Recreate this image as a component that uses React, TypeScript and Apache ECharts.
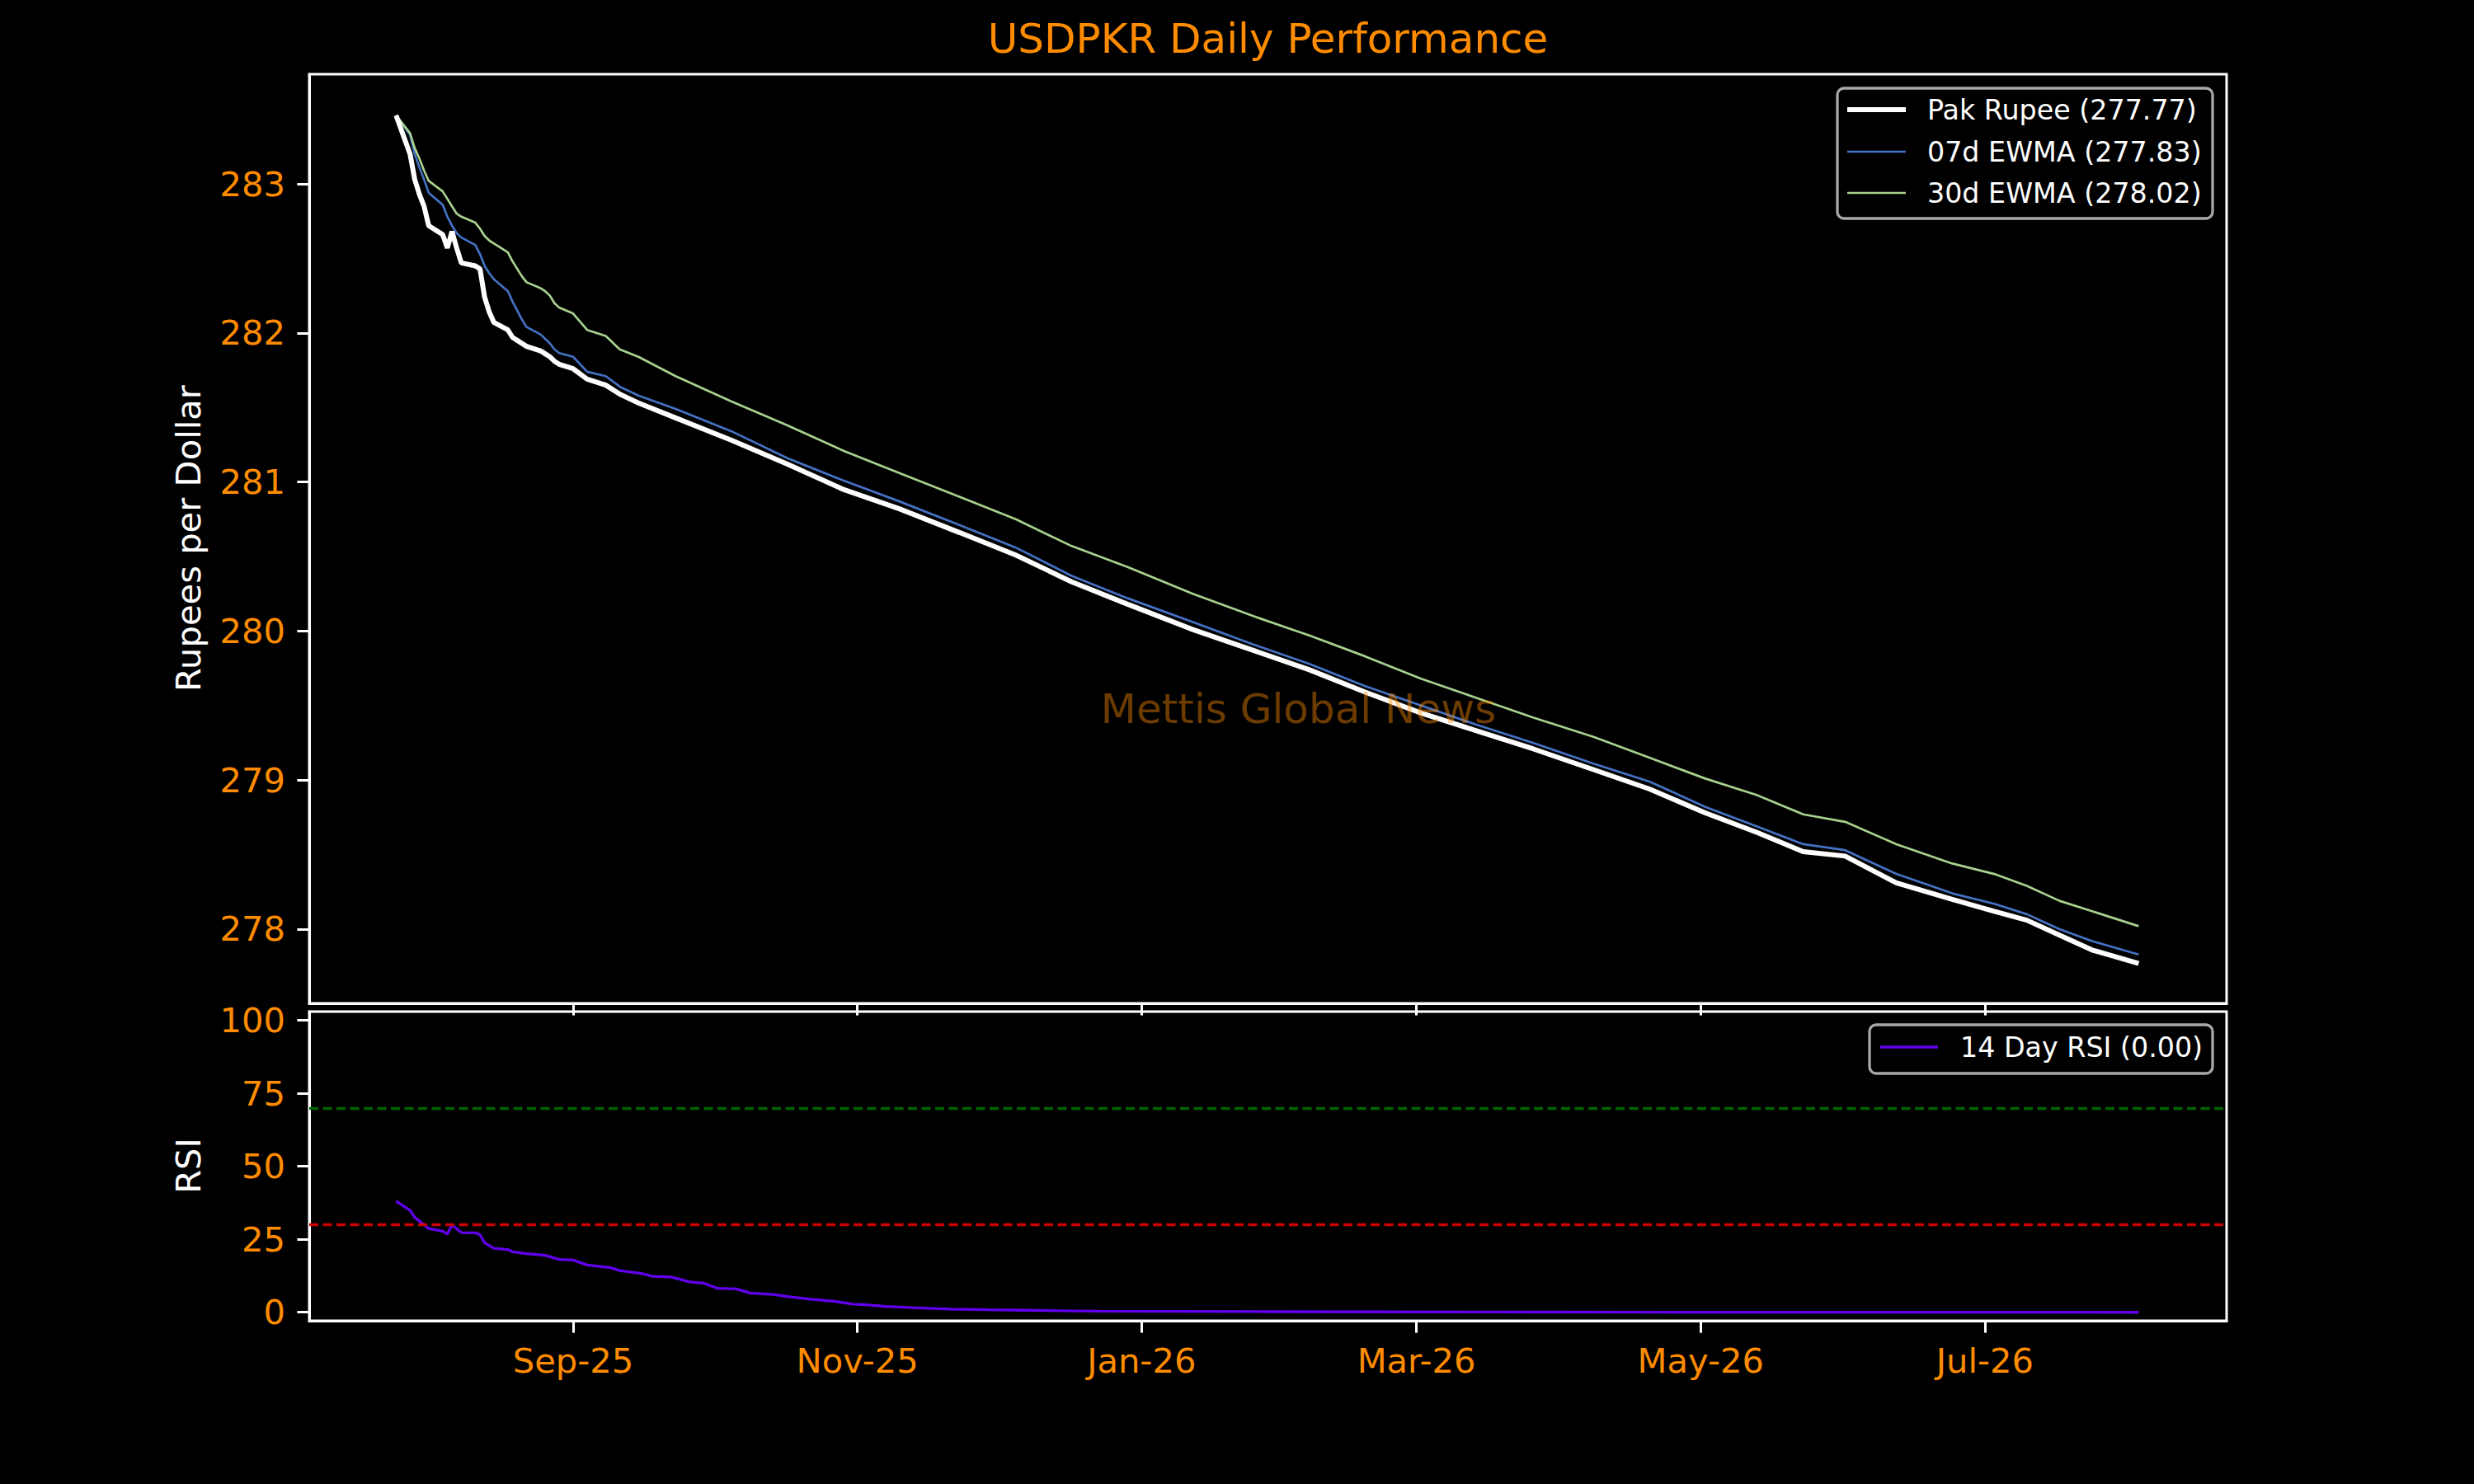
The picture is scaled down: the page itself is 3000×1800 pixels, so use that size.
import { useEffect, useRef } from 'react';
import * as echarts from 'echarts';

// daily closes sampled from the chart (Rupees per Dollar)
const dates = [
  '2025-07-25', '2025-07-28', '2025-07-29', '2025-07-30', '2025-07-31', '2025-08-01',
  '2025-08-04', '2025-08-05', '2025-08-06', '2025-08-07', '2025-08-08', '2025-08-11',
  '2025-08-12', '2025-08-13', '2025-08-14', '2025-08-15', '2025-08-18', '2025-08-19',
  '2025-08-20', '2025-08-21', '2025-08-22', '2025-08-25', '2025-08-26', '2025-08-27',
  '2025-08-28', '2025-08-29', '2025-09-01', '2025-09-04', '2025-09-08', '2025-09-11',
  '2025-09-15', '2025-09-23', '2025-10-05', '2025-10-17', '2025-10-29', '2025-11-10',
  '2025-11-23', '2025-12-05', '2025-12-17', '2025-12-29', '2026-01-12', '2026-01-25',
  '2026-02-06', '2026-02-18', '2026-03-02', '2026-03-14', '2026-03-26', '2026-04-08',
  '2026-04-20', '2026-05-02', '2026-05-13', '2026-05-23', '2026-06-01', '2026-06-12',
  '2026-06-24', '2026-07-03', '2026-07-10', '2026-07-17', '2026-07-24', '2026-08-03',
];
const pkr = [
  283.46, 283.20, 283.03, 282.93, 282.85, 282.72,
  282.66, 282.57, 282.68, 282.57, 282.47, 282.45,
  282.43, 282.24, 282.14, 282.07, 282.02, 281.97,
  281.95, 281.93, 281.91, 281.88, 281.86, 281.84,
  281.81, 281.79, 281.76, 281.69, 281.65, 281.59,
  281.53, 281.43, 281.28, 281.12, 280.95, 280.82,
  280.66, 280.51, 280.33, 280.18, 280.01, 279.87,
  279.74, 279.59, 279.45, 279.33, 279.21, 279.07,
  278.94, 278.78, 278.65, 278.52, 278.49, 278.31,
  278.20, 278.12, 278.06, 277.96, 277.86, 277.77,
];
const ewma07 = [
  283.46, 283.33, 283.20, 283.11, 283.03, 282.94,
  282.86, 282.78, 282.72, 282.67, 282.64, 282.59,
  282.53, 282.45, 282.40, 282.36, 282.28, 282.21,
  282.15, 282.09, 282.04, 281.99, 281.96, 281.93,
  281.89, 281.865, 281.84, 281.74, 281.71, 281.64,
  281.58, 281.49, 281.34, 281.16, 281.01, 280.87,
  280.71, 280.56, 280.37, 280.22, 280.06, 279.91,
  279.78, 279.63, 279.50, 279.37, 279.25, 279.11,
  278.99, 278.82, 278.69, 278.57, 278.53, 278.37,
  278.24, 278.17, 278.10, 278.00, 277.92, 277.83,
];
const ewma30 = [
  283.46, 283.34, 283.24, 283.17, 283.09, 283.02,
  282.95, 282.90, 282.85, 282.80, 282.78, 282.74,
  282.70, 282.65, 282.62, 282.60, 282.54, 282.48,
  282.43, 282.38, 282.34, 282.30, 282.28, 282.25,
  282.20, 282.17, 282.13, 282.02, 281.98, 281.89,
  281.84, 281.71, 281.54, 281.38, 281.21, 281.06,
  280.90, 280.75, 280.57, 280.43, 280.25, 280.10,
  279.97, 279.83, 279.68, 279.55, 279.42, 279.29,
  279.15, 279.01, 278.90, 278.77, 278.72, 278.57,
  278.44, 278.37, 278.29, 278.19, 278.12, 278.02,
];

const rsiDates = [
  '2025-07-25', '2025-07-28', '2025-07-29', '2025-08-01', '2025-08-04', '2025-08-05',
  '2025-08-06', '2025-08-08', '2025-08-11', '2025-08-12', '2025-08-13', '2025-08-15',
  '2025-08-18', '2025-08-19', '2025-08-22', '2025-08-26', '2025-08-29', '2025-09-01',
  '2025-09-04', '2025-09-09', '2025-09-11', '2025-09-16', '2025-09-18', '2025-09-22',
  '2025-09-26', '2025-09-29', '2025-10-02', '2025-10-06', '2025-10-09', '2025-10-14',
  '2025-10-17', '2025-10-22', '2025-10-27', '2025-10-31', '2025-11-03', '2025-11-07',
  '2025-11-13', '2025-11-21', '2025-11-29', '2025-12-07', '2025-12-15', '2025-12-23',
  '2026-01-08', '2026-01-29', '2026-03-15', '2026-05-01', '2026-08-03',
];
const rsi = [
  38.1, 34.9, 32.5, 28.7, 27.8, 26.8,
  29.9, 27.3, 27.2, 26.6, 23.8, 21.9,
  21.5, 20.7, 20.1, 19.5, 18.1, 17.9,
  16.2, 15.3, 14.3, 13.2, 12.3, 12.1,
  10.4, 10.0, 8.2, 8.0, 6.6, 6.1,
  5.4, 4.5, 3.8, 2.8, 2.6, 2.0,
  1.6, 1.1, 0.85, 0.7, 0.5, 0.4,
  0.3, 0.2, 0.1, 0.05, 0.0,
];
const rsiLevels = [70, 30];

const tickDates = ['2025-09-01', '2025-11-01', '2026-01-01', '2026-03-01', '2026-05-01', '2026-07-01'];
const tickLabels = ['Sep-25', 'Nov-25', 'Jan-26', 'Mar-26', 'May-26', 'Jul-26'];
const priceTicks = [278, 279, 280, 281, 282, 283];
const rsiTicks = [0, 25, 50, 75, 100];

const ORANGE = '#ff8c00';
const FONT = 'DejaVu Sans';

// dates -> ms timestamps (UTC) so the x axis can be a plain value axis
function toTime(s: string) {
  const [d, t] = s.split(' ');
  const [y, m, day] = d.split('-').map(Number);
  const [hh, mm] = (t || '00:00').split(':').map(Number);
  return Date.UTC(y, m - 1, day, hh, mm);
}

export default function App() {
  const ref = useRef<HTMLDivElement>(null);

  useEffect(() => {
    if (!ref.current) return;
    document.body.style.margin = '0';
    document.body.style.background = '#000';
    const chart = echarts.init(ref.current, undefined, { renderer: 'svg' });

    const tickTimes = tickDates.map(toTime);
    const xMin = toTime('2025-07-06 08:40');
    const xMax = toTime('2026-08-21 21:00');

    const xBase = {
      type: 'value' as const,
      min: xMin,
      max: xMax,
      splitLine: { show: false },
      axisLine: { onZero: false, lineStyle: { color: '#fff', width: 3 } },
      axisTick: { customValues: tickTimes, length: 14.6, lineStyle: { color: '#fff', width: 3 } },
    };
    const yBase = {
      type: 'value' as const,
      splitLine: { show: false },
      axisLine: { show: true, lineStyle: { color: '#fff', width: 3 } },
      axisLabel: { color: ORANGE, fontSize: 41.67, fontFamily: FONT, margin: 29 },
    };

    const legendText = (x: number, y: number, text: string) => ({
      type: 'text', x, y, z: 102,
      style: { text, fill: '#fff', font: `33.3px "${FONT}"`, verticalAlign: 'middle' },
    });
    const legendLine = (y: number, color: string, width: number, x1 = 2240, x2 = 2311) => ({
      type: 'line', z: 102,
      shape: { x1, y1: y, x2, y2: y },
      style: { stroke: color, lineWidth: width },
    });

    chart.setOption({
      animation: false,
      backgroundColor: '#000',
      grid: [
        { left: 375, top: 90, width: 2325, height: 1127, show: true, borderColor: '#fff', borderWidth: 3, backgroundColor: '#000' },
        { left: 375, top: 1227, width: 2325, height: 375, show: true, borderColor: '#fff', borderWidth: 3, backgroundColor: '#000' },
      ],
      xAxis: [
        { ...xBase, gridIndex: 0, axisLabel: { show: false } },
        {
          ...xBase,
          gridIndex: 1,
          axisLabel: {
            customValues: tickTimes,
            color: ORANGE, fontSize: 41.67, fontFamily: FONT, margin: 27,
            formatter: (v: number) => {
              const i = tickTimes.indexOf(v);
              return i >= 0 ? tickLabels[i] : '';
            },
          },
        },
      ],
      yAxis: [
        {
          ...yBase, gridIndex: 0, min: 277.502, max: 283.736,
          axisTick: { customValues: priceTicks, length: 14.6, lineStyle: { color: '#fff', width: 3 } },
          axisLabel: { ...yBase.axisLabel, customValues: priceTicks },
        },
        {
          ...yBase, gridIndex: 1, min: -2.9, max: 103.0,
          axisTick: { customValues: rsiTicks, length: 14.6, lineStyle: { color: '#fff', width: 3 } },
          axisLabel: { ...yBase.axisLabel, customValues: rsiTicks },
        },
      ],
      series: [
        {
          name: '07d EWMA', type: 'line', xAxisIndex: 0, yAxisIndex: 0, symbol: 'none',
          data: dates.map((d, i) => [toTime(d), ewma07[i]]),
          lineStyle: { color: '#4472c4', width: 2.7 }, z: 3,
        },
        {
          name: '30d EWMA', type: 'line', xAxisIndex: 0, yAxisIndex: 0, symbol: 'none',
          data: dates.map((d, i) => [toTime(d), ewma30[i]]),
          lineStyle: { color: '#a9d18e', width: 2.7 }, z: 3,
        },
        {
          name: 'Pak Rupee', type: 'line', xAxisIndex: 0, yAxisIndex: 0, symbol: 'none',
          data: dates.map((d, i) => [toTime(d), pkr[i]]),
          lineStyle: { color: '#fff', width: 6 }, z: 4,
        },
        {
          name: '14 Day RSI', type: 'line', xAxisIndex: 1, yAxisIndex: 1, symbol: 'none',
          data: rsiDates.map((d, i) => [toTime(d), rsi[i]]),
          lineStyle: { color: '#6200ee', width: 3.3 }, z: 4,
          markLine: {
            silent: true, symbol: 'none', label: { show: false },
            data: rsiLevels.map((v, i) => ({
              yAxis: v,
              lineStyle: { color: i === 0 ? '#006400' : '#cc0000', width: 3.3, type: [11, 5.5] },
            })),
          },
        },
      ],
      graphic: [
        {
          type: 'text', x: 1537.5, y: 47, z: 100,
          style: { text: 'USDPKR Daily Performance', fill: ORANGE, font: `50px "${FONT}"`, align: 'center', verticalAlign: 'middle' },
        },
        {
          type: 'text', x: 228, y: 653, rotation: Math.PI / 2, z: 100,
          style: { text: 'Rupees per Dollar', fill: '#fff', font: `41.67px "${FONT}"`, align: 'center', verticalAlign: 'middle' },
        },
        {
          type: 'text', x: 228, y: 1414, rotation: Math.PI / 2, z: 100,
          style: { text: 'RSI', fill: '#fff', font: `41.67px "${FONT}"`, align: 'center', verticalAlign: 'middle' },
        },
        {
          type: 'text', x: 1574.5, y: 860, z: 100,
          style: { text: 'Mettis Global News', fill: 'rgba(255,140,0,0.42)', font: `50px "${FONT}"`, align: 'center', verticalAlign: 'middle' },
        },
        {
          type: 'rect', z: 101,
          shape: { x: 2228, y: 107, width: 455, height: 158, r: 8 },
          style: { fill: 'rgba(0,0,0,0.8)', stroke: '#a8a8a8', lineWidth: 3.3 },
        },
        legendLine(133, '#fff', 6),
        legendLine(184, '#4472c4', 2.7),
        legendLine(234, '#a9d18e', 2.7),
        legendText(2337, 133, 'Pak Rupee (277.77)'),
        legendText(2337, 184, '07d EWMA (277.83)'),
        legendText(2337, 234, '30d EWMA (278.02)'),
        {
          type: 'rect', z: 101,
          shape: { x: 2267, y: 1243, width: 416, height: 59, r: 8 },
          style: { fill: 'rgba(0,0,0,0.8)', stroke: '#a8a8a8', lineWidth: 3.3 },
        },
        legendLine(1270, '#6200ee', 3.3, 2280, 2350),
        legendText(2377, 1270, '14 Day RSI (0.00)'),
      ],
    });

    return () => chart.dispose();
  }, []);

  return <div ref={ref} style={{ width: 3000, height: 1800, background: '#000' }} />;
}
